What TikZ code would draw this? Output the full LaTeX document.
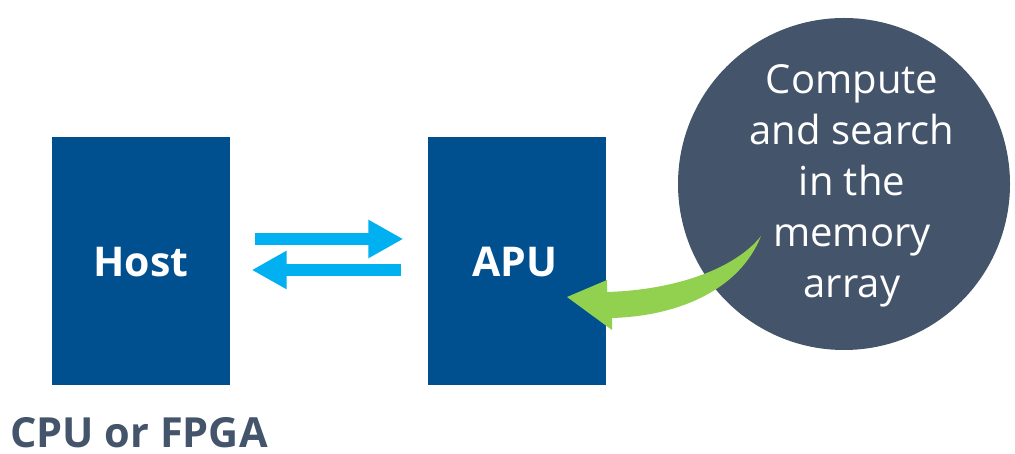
\documentclass[tikz,border=0pt]{standalone}
\usepackage{fontspec}
\setmainfont{Open Sans}
\usetikzlibrary{arrows.meta}
\definecolor{boxblue}{RGB}{0,80,143}
\definecolor{slate}{RGB}{68,84,106}
\definecolor{cyanarrow}{RGB}{0,176,240}
\definecolor{greenarrow}{RGB}{146,208,80}
\tikzset{
  unit/.style={fill=boxblue, draw=none, minimum width=178pt, minimum height=248pt, inner sep=0pt},
  unitlabel/.style={text=white, font=\bfseries\fontsize{41}{48}\selectfont, anchor=base, inner sep=0pt},
  flow/.style={cyanarrow, line width=12pt, -{Triangle[length=35pt,width=36pt]}},
  bubble/.style={circle, fill=slate, draw=none, minimum size=332pt, inner sep=0pt},
  bubbletext/.style={text=white, font=\fontsize{40}{51}\selectfont, align=center, inner sep=0pt}
}
\begin{document}
\begin{tikzpicture}[x=1pt,y=1pt]
\useasboundingbox (0,0) rectangle (1015,454);
\node[unit] (host) at (140.5,193) {};
\node[unit] (apu) at (516.5,193) {};
\node[unitlabel] (hostlbl) at (141,177) {Host};
\node[unitlabel] (apulbl) at (515,177) {APU};
\draw[flow] ([xshift=25pt,yshift=22pt]host.east) -- ([xshift=-24pt,yshift=22pt]apu.west);
\draw[flow] ([xshift=-26pt,yshift=-9pt]apu.west) -- ([xshift=22pt,yshift=-9pt]host.east);
\node[bubble] (mem) at (844,270) {};
\fill[greenarrow] (567,157) -- (607,174) -- (607,162)
  .. controls (675,164) and (735,185) .. (761,218)
  .. controls (740,165) and (680,138) .. (612,136)
  -- (612,124) -- cycle;
\node[bubbletext] (memlbl) at (852,268) {Compute\\and search\\in the\\memory\\array};
\node[anchor=base west, text=slate, font=\bfseries\fontsize{41.5}{48}\selectfont, inner sep=0pt] (cpu) at (10,6) {CPU or FPGA};
\end{tikzpicture}
\end{document}
